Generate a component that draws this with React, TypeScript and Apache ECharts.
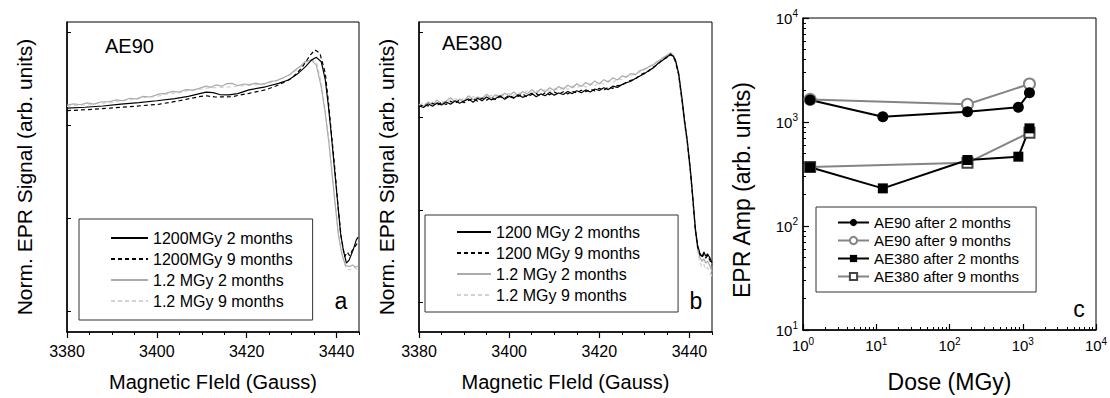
import React, { useEffect, useRef } from "react";
import * as echarts from "echarts";

const FONT = "'Liberation Sans', Arial, Helvetica, sans-serif";

// ---------- Panel a (AE90) ----------
const aNames = ["1200MGy 2 months", "1200MGy 9 months", "1.2 MGy 2 months", "1.2 MGy 9 months"];
const a1200m2: number[][] = [
  [3380, 72.2], [3384, 72.5], [3388, 72.9], [3392, 73.5], [3396, 74.0], [3400, 74.6], [3404, 75.3],
  [3407, 76.0], [3409.5, 76.9], [3411, 77.4], [3412.5, 77.2], [3414, 76.6], [3416, 76.5], [3418, 76.9],
  [3420.5, 78.1], [3424.2, 79.1], [3427.1, 80.2], [3429.3, 81.3], [3431.5, 83.5], [3433.1, 85.6],
  [3434.4, 87.7], [3435.5, 88.6], [3436.6, 87.2], [3437.5, 81.3], [3438.2, 72.7], [3438.8, 64.2],
  [3439.5, 53.3], [3440.2, 42.6], [3440.9, 31.8], [3441.5, 26.5], [3442.2, 22.2], [3442.8, 23.2],
  [3443.7, 26.5], [3444.4, 29.7], [3444.8, 30.6],
];
const a1200m9: number[][] = [
  [3380, 71.4], [3384, 71.7], [3389.5, 72.2], [3395, 72.8], [3400.6, 73.5], [3405, 74.6], [3409.4, 75.9],
  [3411, 76.2], [3413, 75.8], [3416.7, 75.9], [3420.5, 77.0], [3424.2, 78.1], [3427.1, 79.7], [3430, 81.8],
  [3432.2, 85.1], [3434.2, 89.4], [3435.2, 91.0], [3436.3, 89.9], [3437.5, 83.5], [3438.3, 72.7],
  [3439, 62.0], [3439.7, 51.5], [3440.3, 41.0], [3441, 31.0], [3441.8, 24.3], [3442.4, 25.8],
  [3442.9, 24.6], [3443.6, 26.6], [3444.8, 29.0],
];
const a12m2: number[][] = [
  [3380, 73.2], [3381.5, 73.6], [3383, 73.3], [3384.5, 73.9], [3386, 73.5], [3387.5, 74.2], [3389.5, 74.3],
  [3391, 74.9], [3392.5, 74.6], [3394, 75.4], [3395.5, 75.2], [3397, 76.0], [3398.5, 75.8], [3400.6, 76.8],
  [3402, 77.0], [3403.5, 77.6], [3405, 77.4], [3406.5, 78.2], [3408, 78.0], [3409.4, 78.6], [3411, 79.3],
  [3412, 78.9], [3413.1, 79.7], [3414.5, 79.3], [3415.5, 80.1], [3416.7, 80.2], [3418, 79.5], [3419.5, 80.0],
  [3420.5, 79.7], [3422, 80.3], [3423, 79.9], [3424.2, 80.2], [3425.5, 80.9], [3426.5, 81.0], [3427.8, 81.8],
  [3429.5, 83.0], [3430.8, 84.5], [3432, 85.8], [3433, 87.2], [3434.4, 87.7], [3435.5, 86.1], [3436.6, 79.1],
  [3437.5, 70.5], [3438.3, 61.0], [3439, 51.0], [3439.7, 41.0], [3440.4, 31.5], [3441.2, 25.0], [3442, 21.5],
  [3442.8, 21.1], [3443.6, 21.6], [3444.2, 20.9], [3444.8, 21.2],
];
const a12m9: number[][] = [
  [3380, 72.8], [3382, 73.1], [3385, 73.3], [3387, 73.8], [3390, 74.0], [3392, 74.6], [3395, 75.0],
  [3397, 75.6], [3400, 76.0], [3402, 76.7], [3405, 77.2], [3407, 77.9], [3409, 78.2], [3412, 78.8],
  [3415, 78.9], [3418, 79.3], [3421, 79.6], [3424, 80.0], [3427, 81.2], [3429.5, 82.8], [3431, 84.4],
  [3433, 86.8], [3434.6, 87.9], [3435.7, 86.5], [3436.7, 79.5], [3437.6, 70.0], [3438.4, 60.5],
  [3439.1, 50.5], [3439.8, 40.5], [3440.5, 31.0], [3441.3, 24.5], [3442.1, 20.5], [3443, 20.0],
  [3444, 20.8], [3444.8, 20.0],
];

// ---------- Panel b (AE380) ----------
const bNames = ["1200 MGy 2 months", "1200 MGy 9 months", "1.2 MGy 2 months", "1.2 MGy 9 months"];
const bField = [
  3380, 3381, 3382, 3383, 3384, 3385, 3386, 3387, 3388, 3389,
  3390, 3391, 3392, 3393, 3394, 3395, 3396, 3397, 3398, 3399,
  3400, 3401, 3402, 3403, 3404, 3405, 3406, 3407, 3408, 3409,
  3410, 3411, 3412, 3413, 3414, 3415, 3416, 3417, 3418, 3419,
  3420, 3421, 3422, 3423, 3424, 3425, 3426, 3427, 3428, 3429,
  3430, 3431, 3432, 3433, 3434, 3435,
  3435.8, 3436.4, 3436.9, 3437.6, 3438.4, 3438.9, 3439.5, 3440.2, 3440.8, 3441.3,
  3441.8, 3442.3, 3442.8, 3443.2, 3443.6, 3444.0, 3444.5, 3445,
];
const b1200m2 = [
  73.0, 72.4, 73.6, 72.8, 73.9, 73.2, 74.2, 73.5, 74.6, 73.8,
  74.5, 75.2, 74.1, 75.4, 74.6, 75.8, 74.9, 75.3, 76.2, 75.1,
  76.0, 75.4, 76.5, 75.7, 76.3, 77.0, 75.9, 76.8, 76.2, 77.3,
  76.4, 77.1, 76.6, 77.6, 76.9, 77.8, 77.2, 78.1, 77.4, 78.4,
  77.9, 78.8, 78.2, 79.3, 78.9, 79.8, 80.4, 80.9, 81.8, 82.6,
  83.3, 84.4, 85.2, 86.6, 87.6, 88.8,
  89.4, 89.0, 87.7, 83.5, 74.8, 68.4, 62.0, 52.5, 42.6, 33.5,
  28.0, 25.5, 24.3, 25.8, 24.4, 25.2, 24.0, 22.3,
];
const b1200m9 = [
  72.6, 73.4, 72.9, 73.8, 73.1, 74.0, 73.4, 74.4, 73.7, 74.8,
  74.0, 74.7, 75.3, 74.4, 75.5, 74.8, 75.7, 75.0, 75.9, 75.4,
  76.3, 75.6, 76.0, 76.8, 75.8, 76.6, 76.9, 76.1, 77.2, 76.5,
  77.4, 76.7, 77.5, 76.8, 77.7, 77.1, 78.0, 77.5, 78.3, 77.8,
  78.6, 78.0, 79.0, 78.6, 79.5, 79.6, 80.6, 81.2, 81.6, 82.9,
  83.6, 84.2, 85.5, 86.4, 87.9, 88.5,
  89.7, 88.7, 87.2, 83.0, 74.2, 68.0, 61.6, 52.0, 42.0, 33.0,
  27.5, 25.0, 24.0, 25.2, 23.8, 24.6, 23.2, 21.5,
];
const b12m2 = [
  73.5, 72.8, 74.2, 73.3, 74.8, 73.6, 74.5, 75.6, 74.2, 75.1,
  74.6, 76.2, 74.9, 75.8, 75.2, 76.7, 75.4, 76.5, 75.9, 77.0,
  76.2, 77.4, 76.4, 77.6, 76.8, 78.2, 77.0, 78.4, 77.5, 78.8,
  77.9, 79.2, 78.3, 79.6, 78.8, 80.1, 79.2, 80.5, 79.6, 81.0,
  80.1, 81.4, 80.6, 82.0, 81.3, 82.6, 82.2, 83.4, 83.0, 84.3,
  84.7, 85.6, 86.2, 87.4, 88.2, 89.3,
  90.1, 89.4, 87.6, 82.8, 73.6, 67.2, 60.8, 51.5, 41.6, 32.8,
  27.0, 24.2, 22.8, 23.6, 22.2, 22.9, 21.4, 19.5,
];
const b12m9 = [
  73.1, 74.0, 73.0, 74.3, 73.5, 74.6, 73.9, 74.9, 75.3, 74.4,
  75.6, 74.8, 76.0, 75.1, 76.3, 75.5, 76.4, 75.8, 76.9, 76.0,
  77.1, 76.3, 77.3, 76.6, 77.8, 76.9, 77.9, 77.2, 78.3, 77.6,
  78.6, 77.9, 79.0, 78.2, 79.4, 78.7, 79.8, 79.0, 80.2, 79.4,
  80.6, 79.9, 81.1, 80.5, 81.6, 81.4, 82.5, 82.6, 83.7, 83.8,
  85.0, 85.4, 86.6, 87.1, 88.5, 89.0,
  89.8, 89.0, 87.0, 82.4, 73.2, 66.8, 60.3, 51.0, 41.0, 32.0,
  26.0, 22.5, 21.0, 21.8, 20.2, 20.8, 19.2, 18.0,
];

// ---------- Panel c (EPR amplitude vs dose) ----------
const cNames = ["AE90 after 2 months", "AE90 after 9 months", "AE380 after 2 months", "AE380 after 9 months"];
const doseFull = [1.25, 12.3, 176, 871, 1235];
const doseShort = [1.25, 176, 1235];
const ampAE90m2 = [1630, 1125, 1256, 1384, 1914];
const ampAE90m9 = [1650, 1480, 2320];
const ampAE380m2 = [367, 230, 431, 464, 869];
const ampAE380m9 = [370, 405, 790];

// tick labels / tick positions
const fieldTicks = [3380, 3400, 3420, 3440];
const aYTicks = [6.8, 36.8, 66.8, 96.8];
const bYTicks = [9.7, 39.4, 69.4, 96.8];
const cXMinor = [2, 3, 4, 5, 6, 7, 8, 9, 20, 30, 40, 50, 60, 70, 80, 90, 200, 300, 400, 500, 600, 700, 800, 900, 2000, 3000, 4000, 5000, 6000, 7000, 8000, 9000];
const cYMinor = [20, 30, 40, 50, 60, 70, 80, 90, 200, 300, 400, 500, 600, 700, 800, 900, 2000, 3000, 4000, 5000, 6000, 7000, 8000, 9000];

const zip = (xs: number[], ys: number[]) => xs.map((x, i) => [x, ys[i]]);

const lineStyles = [
  { color: "#000000", type: "solid", width: 1.2 },
  { color: "#000000", type: [4, 3], width: 1.2 },
  { color: "#ababab", type: "solid", width: 1.2 },
  { color: "#d2d2d2", type: [4, 3], width: 1.2 },
];

const black = "#000";

function fieldXAxis(grid: number) {
  return [
    {
      gridIndex: grid, type: "value", min: 3380, max: 3445, interval: 20, position: "bottom",
      axisLine: { show: true, onZero: false, lineStyle: { color: black, width: 1.5 } },
      axisTick: { show: true, inside: false, length: 6, lineStyle: { color: black, width: 1.2 } },
      axisLabel: {
        fontSize: 16, fontFamily: FONT, color: black, margin: 11, showMaxLabel: false,
        formatter: (v: number) => (fieldTicks.includes(v) ? String(v) : ""),
      },
      splitLine: { show: false },
      name: "Magnetic FIeld (Gauss)", nameLocation: "middle", nameGap: 40,
      nameTextStyle: { fontSize: 20, fontFamily: FONT, color: black },
    },
    {
      gridIndex: grid, type: "value", min: 3380, max: 3445, interval: 5, position: "bottom",
      axisLine: { show: false, onZero: false },
      axisTick: { show: true, inside: false, length: 3, lineStyle: { color: black, width: 1 } },
      axisLabel: { show: false },
      splitLine: { show: false },
    },
  ];
}

function signalYAxis(grid: number, ticks: number[], gap: number) {
  return {
    gridIndex: grid, type: "value", min: 0, max: 100, position: "left",
    axisLine: { show: true, onZero: false, lineStyle: { color: black, width: 1.5 } },
    axisTick: { show: true, inside: true, length: 4, customValues: ticks, lineStyle: { color: black } },
    axisLabel: { show: false },
    splitLine: { show: false },
    name: "Norm. EPR Signal (arb. units)", nameLocation: "middle", nameGap: gap,
    nameTextStyle: { fontSize: 21, fontFamily: FONT, color: black },
  };
}

const powLabel = (v: number) => `{b|10}{s|${Math.round(Math.log10(v))}}`;
const powRich = {
  b: { fontSize: 15, fontFamily: FONT, color: black },
  s: { fontSize: 10, fontFamily: FONT, color: black, padding: [0, 0, 9, 0] },
};

function legendBox(left: number, top: number, padding: number[], itemWidth: number, itemHeight: number, itemGap: number, fontSize: number, data: string[], hideSymbol: boolean) {
  const box: any = {
    orient: "vertical", left, top, padding, itemWidth, itemHeight, itemGap,
    borderColor: "#333", borderWidth: 1, backgroundColor: "#fff",
    selectedMode: false, data,
    textStyle: { fontSize, fontFamily: FONT, color: black },
  };
  if (hideSymbol) {
    box.itemStyle = { color: "rgba(0,0,0,0)", borderColor: "rgba(0,0,0,0)", borderWidth: 0, opacity: 0 };
  }
  return box;
}

function buildOption() {
  const aData = [a1200m2, a1200m9, a12m2, a12m9];
  const bData = [b1200m2, b1200m9, b12m2, b12m9];
  const drawOrder = [3, 2, 1, 0];
  const series: any[] = [];
  drawOrder.forEach((i) => {
    series.push({
      type: "line", name: aNames[i], xAxisIndex: 0, yAxisIndex: 0, data: aData[i],
      symbol: "none", showSymbol: false, color: lineStyles[i].color, lineStyle: lineStyles[i], silent: true,
    });
  });
  drawOrder.forEach((i) => {
    series.push({
      type: "line", name: bNames[i], xAxisIndex: 2, yAxisIndex: 1, data: zip(bField, bData[i]),
      symbol: "none", showSymbol: false, color: lineStyles[i].color, lineStyle: lineStyles[i], silent: true,
    });
  });
  const gray = "#858585";
  series.push(
    {
      type: "line", name: cNames[1], xAxisIndex: 4, yAxisIndex: 2, data: zip(doseShort, ampAE90m9),
      symbol: "emptyCircle", symbolSize: 11, color: gray,
      lineStyle: { color: gray, width: 2 }, itemStyle: { color: gray, borderWidth: 1.2 }, silent: true,
    },
    {
      type: "line", name: cNames[3], xAxisIndex: 4, yAxisIndex: 2, data: zip(doseShort, ampAE380m9),
      symbol: "emptyRect", symbolSize: 10, color: "#444",
      lineStyle: { color: gray, width: 2 }, itemStyle: { color: "#444", borderWidth: 1.2 }, silent: true,
    },
    {
      type: "line", name: cNames[0], xAxisIndex: 4, yAxisIndex: 2, data: zip(doseFull, ampAE90m2),
      symbol: "circle", symbolSize: 11, color: black,
      lineStyle: { color: black, width: 2 }, itemStyle: { color: black }, silent: true,
    },
    {
      type: "line", name: cNames[2], xAxisIndex: 4, yAxisIndex: 2, data: zip(doseFull, ampAE380m2),
      symbol: "rect", symbolSize: 10, color: black,
      lineStyle: { color: black, width: 2 }, itemStyle: { color: black }, silent: true,
    },
  );

  return {
    animation: false,
    backgroundColor: "#fff",
    textStyle: { fontFamily: FONT },
    grid: [
      { left: 67, top: 22, width: 292, height: 310, show: true, borderColor: black, borderWidth: 1, outerBoundsMode: "none" },
      { left: 419, top: 22, width: 293, height: 310, show: true, borderColor: black, borderWidth: 1, outerBoundsMode: "none" },
      { left: 803, top: 18, width: 293, height: 312, show: true, borderColor: black, borderWidth: 1, outerBoundsMode: "none" },
    ],
    xAxis: [
      ...fieldXAxis(0),
      ...fieldXAxis(1),
      {
        gridIndex: 2, type: "log", logBase: 10, min: 1, max: 10000, position: "bottom",
        axisLine: { show: true, onZero: false, lineStyle: { color: black, width: 1.5 } },
        axisTick: { show: true, inside: true, length: 6, lineStyle: { color: black, width: 1.2 } },
        axisLabel: { margin: 6, formatter: powLabel, rich: powRich },
        splitLine: { show: false },
        name: "Dose (MGy)", nameLocation: "middle", nameGap: 40,
        nameTextStyle: { fontSize: 23, fontFamily: FONT, color: black },
      },
      {
        gridIndex: 2, type: "log", logBase: 10, min: 1, max: 10000, position: "bottom",
        axisLine: { show: false, onZero: false },
        axisTick: { show: true, inside: true, length: 3, customValues: cXMinor, lineStyle: { color: black, width: 1 } },
        axisLabel: { show: false },
        splitLine: { show: false },
      },
    ],
    yAxis: [
      signalYAxis(0, aYTicks, 32),
      signalYAxis(1, bYTicks, 22),
      {
        gridIndex: 2, type: "log", logBase: 10, min: 10, max: 10000, position: "left",
        axisLine: { show: true, onZero: false, lineStyle: { color: black, width: 1.5 } },
        axisTick: { show: true, inside: true, length: 6, lineStyle: { color: black, width: 1.2 } },
        axisLabel: { margin: 5, formatter: powLabel, rich: powRich },
        splitLine: { show: false },
      },
      {
        gridIndex: 2, type: "log", logBase: 10, min: 10, max: 10000, position: "left",
        axisLine: { show: false, onZero: false },
        axisTick: { show: true, inside: true, length: 3, customValues: cYMinor, lineStyle: { color: black, width: 1 } },
        axisLabel: { show: false },
        splitLine: { show: false },
      },
    ],
    legend: [
      legendBox(79, 219, [11, 20, 11, 31], 37, 14, 5, 16, aNames, true),
      legendBox(425, 215, [9, 38, 9, 31], 34, 14, 5, 16, bNames, true),
      legendBox(816, 207, [8, 17, 8, 21], 31, 9, 3, 15, cNames, false),
    ],
    graphic: [
      { type: "text", x: 105, y: 46, style: { text: "AE90", fontSize: 20, fontFamily: FONT, fill: black, align: "left", verticalAlign: "middle" } },
      { type: "text", x: 442, y: 43, style: { text: "AE380", fontSize: 20, fontFamily: FONT, fill: black, align: "left", verticalAlign: "middle" } },
      { type: "text", x: 341, y: 301, style: { text: "a", fontSize: 23, fontFamily: FONT, fill: black, align: "center", verticalAlign: "middle" } },
      { type: "text", x: 696, y: 301, style: { text: "b", fontSize: 23, fontFamily: FONT, fill: black, align: "center", verticalAlign: "middle" } },
      { type: "text", x: 1079, y: 309, style: { text: "c", fontSize: 23, fontFamily: FONT, fill: black, align: "center", verticalAlign: "middle" } },
      { type: "text", x: 742, y: 190, rotation: Math.PI / 2, style: { text: "EPR Amp (arb. units)", fontSize: 23, fontFamily: FONT, fill: black, align: "center", verticalAlign: "middle" } },
    ],
    series,
  };
}

export default function App() {
  const ref = useRef<HTMLDivElement>(null);
  useEffect(() => {
    document.body.style.margin = "0";
    const chart = echarts.init(ref.current as HTMLDivElement, null, { renderer: "svg" });
    chart.setOption(buildOption() as any);
    return () => chart.dispose();
  }, []);
  return <div ref={ref} style={{ width: 1110, height: 398 }} />;
}
